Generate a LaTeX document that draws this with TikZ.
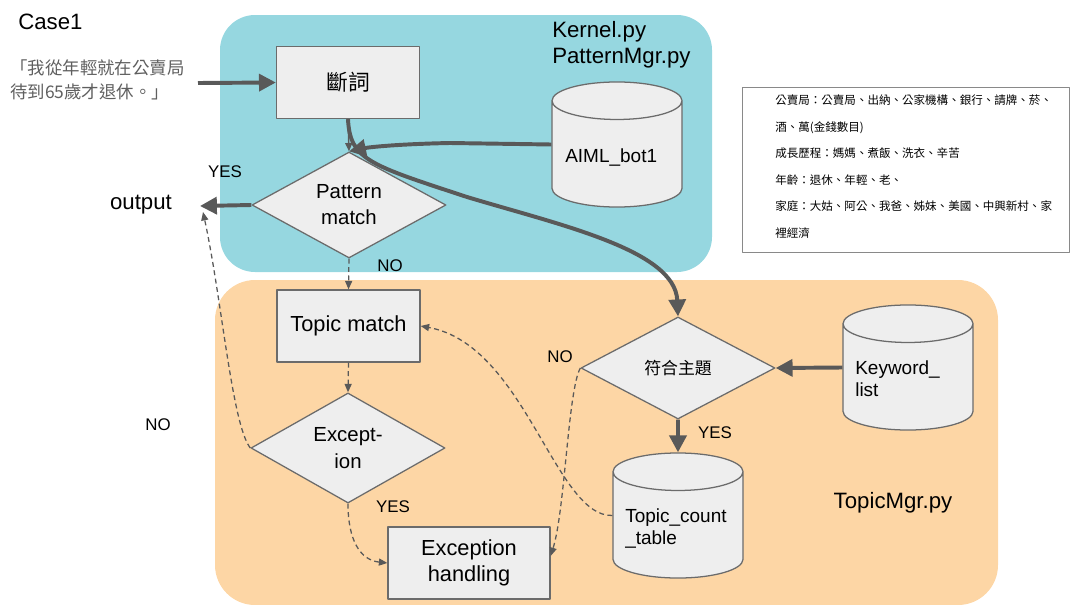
\documentclass[tikz,border=0pt]{standalone}
\usepackage{fontspec}
\setmainfont{Liberation Sans}
\newfontfamily\cjk{Noto Sans CJK TC}
\usetikzlibrary{shapes.geometric,arrows.meta}
\definecolor{tealbg}{HTML}{96D7E0}
\definecolor{orangebg}{HTML}{FDD6A5}
\definecolor{boxfill}{HTML}{EEEEEE}
\definecolor{boxline}{HTML}{6B6B6B}
\definecolor{arrowgray}{HTML}{595959}
\definecolor{quotegray}{HTML}{5F5F5F}
\begin{document}
\begin{tikzpicture}[x=0.025cm, y=-0.025cm, line join=round,
	procbox/.style={draw=boxline, fill=boxfill, line width=0.9pt, minimum width=3.575cm, minimum height=1.8cm, align=center, font=\fontsize{15.5}{18}\selectfont},
	decision/.style={diamond, draw=boxline, fill=boxfill, line width=0.9pt, inner sep=0pt, minimum width=4.85cm, minimum height=2.55cm, align=center, font=\fontsize{14.5}{18.5}\selectfont},
	database/.style={cylinder, shape border rotate=90, aspect=4, anchor=shape center, draw=boxline, fill=boxfill, line width=0.9pt, minimum width=3.25cm, minimum height=3.125cm},
	dbtext/.style={anchor=west, align=left, inner sep=0pt, font=\fontsize{13.5}{15.6}\selectfont},
	answer/.style={inner sep=0pt, font=\fontsize{12}{14}\selectfont},
	label/.style={inner sep=0pt, font=\fontsize{15.8}{18.5}\selectfont},
	heavy/.style={draw=arrowgray, line width=2.8pt, -{Triangle[length=12pt,width=12pt]}},
	plain/.style={draw=arrowgray, line width=1pt, -{Triangle[length=6pt,width=5pt]}},
	flow/.style={draw=arrowgray, line width=0.9pt, dash pattern=on 3.5pt off 2.5pt, -{Triangle[length=6pt,width=5pt]}}]
	\useasboundingbox (0,0) rectangle (1072,605);
	\fill[tealbg, rounded corners=0.875cm] (220,15) rectangle (712,272);
	\fill[orangebg, rounded corners=1cm] (215,280) rectangle (998,605);

	\node[label, anchor=west] (case) at (18,22) {Case1};
	\node[anchor=west, align=left, inner sep=0pt, text=quotegray, font=\cjk\fontsize{12.4}{17}\selectfont] (quote) at (10,80) {「我從年輕就在公賣局\\待到65歲才退休。」};
	\node[label, anchor=west, align=left] (kernel) at (552,45) {Kernel.py\\PatternMgr.py};
	\node[label] (output) at (141,205) {output};
	\node[label] (topicmgr) at (893,503) {TopicMgr.py};

	\node[draw=boxline!80, line width=0.6pt, fill=white, minimum width=8.175cm, minimum height=4.125cm] (info) at (905.5,169.5) {};
	\node[anchor=west, align=left, inner sep=0pt, font=\cjk\fontsize{8.2}{18.8}\selectfont] (infotext) at (775,166.5) {公賣局：公賣局、出納、公家機構、銀行、請牌、菸、\\酒、萬(金錢數目)\\成長歷程：媽媽、煮飯、洗衣、辛苦\\年齡：退休、年輕、老、\\家庭：大姑、阿公、我爸、姊妹、美國、中興新村、家\\裡經濟};

	\node[procbox, font=\cjk\fontsize{15.5}{18}\selectfont] (tokenize) at (348,82.5) {斷詞};
	\node[procbox] (topicmatch) at (348.5,326) {Topic match};
	\node[procbox, minimum width=4.05cm] (handling) at (469,563) {Exception\\handling};
	\node[decision] (pattern) at (349,205) {Pattern\\match};
	\node[decision, font=\fontsize{14.5}{19}\selectfont] (except) at (348,448) {Except-\\ion};
	\node[decision, font=\cjk\fontsize{12}{14}\selectfont] (topicfit) at (678,368) {符合主題};

	\node[database] (aiml) at (617,144.5) {};
	\node[database] (keyword) at (908,367.5) {};
	\node[database] (counttable) at (678,515.5) {};
	\node[dbtext] (aimltext) at (565,158) {AIML\_bot1};
	\node[dbtext] (keywordtext) at (855,379) {Keyword\_\\list};
	\node[dbtext] (counttext) at (625,528.5) {Topic\_count\\\_table};

	\node[answer] (yes1) at (225,172) {YES};
	\node[answer] (no1) at (390,266) {NO};
	\node[answer] (no2) at (158,425) {NO};
	\node[answer] (yes2) at (393,507) {YES};
	\node[answer] (no3) at (560,357) {NO};
	\node[answer] (yes3) at (715,433) {YES};

	\coordinate (inp) at (198,83);
	\coordinate (outpt) at (200,206);
	\draw[heavy] (inp) -- (tokenize.west);
	\draw[plain] (tokenize.south) -- (pattern.north);
	\draw[heavy] (tokenize.south) .. controls (350,160) and (370,165) .. (467,197) .. controls (560,225) and (675,250) .. (topicfit.north);
	\draw[heavy] (aiml.shape center -| aiml.west) -- (450,143) .. controls (400,144) and (370,147) .. (pattern.north);
	\draw[heavy] (pattern.west) -- (outpt);
	\draw[heavy] (keyword.shape center -| keyword.west) -- (topicfit.east);
	\draw[heavy] (topicfit.south) -- (counttable.north);
	\draw[flow] (pattern.south) -- (topicmatch.north);
	\draw[flow] (topicmatch.south) -- (except.north);
	\draw[flow] (except.west) .. controls (232,425) and (222,300) .. ([xshift=0.075cm, yshift=-0.15cm]outpt);
	\draw[flow] (except.south) .. controls (348,540) and (360,560) .. (handling.west);
	\draw[flow] (topicfit.west) .. controls (568,390) and (565,510) .. ([yshift=0.175cm]handling.east);
	\draw[flow] (counttable.shape center -| counttable.west) .. controls (555,517) and (525,345) .. (topicmatch.east);
\end{tikzpicture}
\end{document}
